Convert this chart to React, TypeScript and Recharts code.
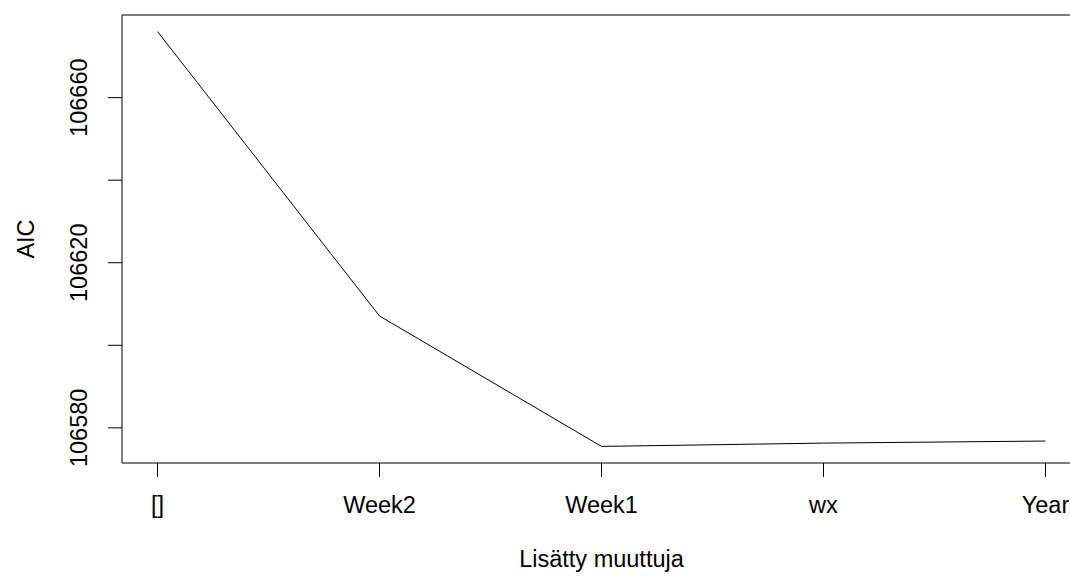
import React from "react";
import {
  LineChart,
  Line,
  XAxis,
  YAxis,
  ReferenceArea
} from "recharts";

const categories = ["[]", "Week2", "Week1", "wx", "Year"];
const aicValues = [106676.0, 106607.1, 106575.5, 106576.3, 106576.8];
const yTicks = [106580, 106600, 106620, 106640, 106660];
const yTickLabels = ["106580", "", "106620", "", "106660"];

const FONT = "'Liberation Sans', Arial, Helvetica, sans-serif";
const FONT_SIZE = 23.5;

const data = categories.map((name, i) => ({ pos: i + 1, name, aic: aicValues[i] }));

// base-graphics style 4% padding on both axes
const yMin = Math.min(...aicValues);
const yMax = Math.max(...aicValues);
const yPad = (yMax - yMin) * 0.04;
const yDomain: [number, number] = [yMin - yPad, yMax + yPad];
const xPad = (categories.length - 1) * 0.04;
const xDomain: [number, number] = [1 - xPad, categories.length + xPad];
const xTicks = categories.map((_, i) => i + 1);

const XTick = (props: any) => {
  const { x, y, payload } = props;
  return (
    <text x={x} y={y + 36} textAnchor="middle" fontSize={FONT_SIZE} fontFamily={FONT} fill="#000">
      {categories[payload.value - 1]}
    </text>
  );
};

const YTick = (props: any) => {
  const { x, y, payload } = props;
  const label = yTickLabels[yTicks.indexOf(payload.value)];
  if (!label) return null;
  const bx = x - 20.5;
  return (
    <text
      x={bx}
      y={y}
      textAnchor="middle"
      fontSize={FONT_SIZE}
      fontFamily={FONT}
      fill="#000"
      transform={`rotate(-90, ${bx}, ${y})`}
    >
      {label}
    </text>
  );
};

const XTitle = (props: any) => {
  const { viewBox } = props;
  return (
    <text
      x={viewBox.x + viewBox.width / 2}
      y={viewBox.y + 104}
      textAnchor="middle"
      fontSize={FONT_SIZE}
      fontFamily={FONT}
      fill="#000"
    >
      Lisätty muuttuja
    </text>
  );
};

const YTitle = (props: any) => {
  const { viewBox } = props;
  const cx = 34;
  const cy = viewBox.y + viewBox.height / 2;
  return (
    <text
      x={cx}
      y={cy}
      textAnchor="middle"
      fontSize={FONT_SIZE}
      fontFamily={FONT}
      fill="#000"
      transform={`rotate(-90, ${cx}, ${cy})`}
    >
      AIC
    </text>
  );
};

export default function App() {
  return (
    <div
      style={{
        position: "absolute",
        left: 0,
        top: 0,
        width: 1070,
        height: 577,
        overflow: "hidden",
        background: "#fff"
      }}
    >
      <LineChart
        width={1100}
        height={577}
        data={data}
        margin={{ top: 15, right: 19, bottom: 0, left: 0 }}
      >
        <XAxis
          dataKey="pos"
          type="number"
          domain={xDomain}
          ticks={xTicks}
          interval={0}
          height={114}
          axisLine={false}
          tickLine={{ stroke: "#000" }}
          tickSize={14}
          tickMargin={0}
          tick={<XTick />}
          label={<XTitle />}
        />
        <YAxis
          type="number"
          domain={yDomain}
          ticks={yTicks}
          interval={0}
          width={122}
          axisLine={false}
          tickLine={{ stroke: "#000" }}
          tickSize={14}
          tickMargin={0}
          tick={<YTick />}
          label={<YTitle />}
        />
        <ReferenceArea
          x1={xDomain[0]}
          x2={xDomain[1]}
          y1={yDomain[0]}
          y2={yDomain[1]}
          fill="none"
          stroke="#000"
          strokeWidth={1}
          fillOpacity={0}
          ifOverflow="visible"
        />
        <Line
          type="linear"
          dataKey="aic"
          stroke="#000"
          strokeWidth={1}
          dot={false}
          activeDot={false}
          isAnimationActive={false}
        />
      </LineChart>
    </div>
  );
}
